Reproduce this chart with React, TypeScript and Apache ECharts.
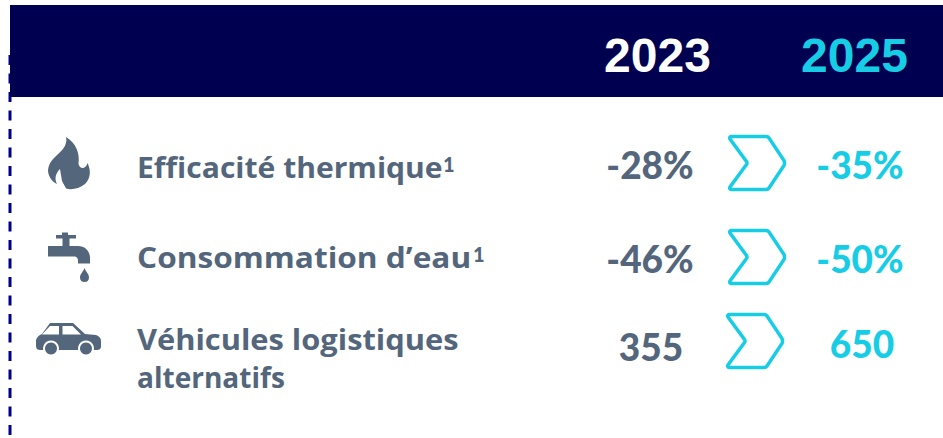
import React, { useEffect, useRef } from "react";
import * as echarts from "echarts";

const years = ["2023", "2025"];
const labels = [["Efficacité thermique"], ["Consommation d’eau"], ["Véhicules logistiques", "alternatifs"]];
const footnotes = ["1", "1", ""];
const values2023 = ["-28%", "-46%", "355"];
const values2025 = ["-35%", "-50%", "650"];

const NAVY = "#000050";
const GREY = "#53667c";
const CYAN = "#17cde6";
const FONT = "Open Sans";
const VALUE_FONT = "Lato";

const FLAME = "M66 137 C76 143 80 153 78.500 164 C80 170 86 169 87.500 163 C91 170 91 178 85 184 C79 189 71 190 66 188.500 C62 184 59 178 60 169 C56 173 54 178 57 184 C52 182 48 176 48 170 C49 160 58 155 63 149 C66 145 67 141 66 137 Z";
const TAP = "M62 232.500 L68 232.500 L68 235 L76 235 L76 238.500 L69.500 238.500 L69.500 246 L78 246 C85 246 90 251 90 258 L90 263.500 L78 263.500 L78 261 C78 258.500 77 257 75 256.500 L48 256.500 L48 246 L62.500 246 L62.500 238.500 L56 238.500 L56 235 L62 235 Z M84.500 268 C86 272 89 274 89 277.500 C89 280.500 87 282 84.500 282 C82 282 80 280.500 80 277.500 C80 274 83 272 84.500 268 Z";
const CAR = "M50 323 L73 323 L85 334 L96 335 C99 336 101 338 101 341 L101 347 C101 349 99 350 97 350 L40 350 C38 350 36 349 36 346 L36 340 C37 337 39 335 42 334 Z";
const WIN_A = "M42 334.500 L50 326 L59 326 L59 334.500 Z";
const WIN_B = "M62.500 326 L72.500 326 L81 334.500 L62.500 334.500 Z";
const CHEVRON = "M731 136.500 L766 136.500 Q768 136.500 769 138 L784 160.500 Q785 163 784 165.500 L769 188 Q768 189.500 766 189.500 L731 189.500 Q729 189 730 187 L746.500 164.500 Q747.500 163 746.500 161.500 L730 139 Q729 137 731 136.500 Z";

echarts.graphic.registerShape("flame", echarts.graphic.extendPath(FLAME, {}) as any);
echarts.graphic.registerShape("tap", echarts.graphic.extendPath(TAP, {}) as any);
echarts.graphic.registerShape("car", echarts.graphic.extendPath(CAR, {}) as any);
echarts.graphic.registerShape("winA", echarts.graphic.extendPath(WIN_A, {}) as any);
echarts.graphic.registerShape("winB", echarts.graphic.extendPath(WIN_B, {}) as any);
echarts.graphic.registerShape("chevron", echarts.graphic.extendPath(CHEVRON, {}) as any);

const text = (x: number, y: number, t: string, size: number, fill: string, align = "left", scaleX = 1, family = FONT, weight = "bold") => ({
  type: "text",
  x,
  y,
  scaleX,
  style: { text: t, x: 0, y: 0, fill, font: `${weight} ${size}px "${family}"`, textAlign: align, textVerticalAlign: "middle" },
});

export default function App() {
  const ref = useRef<HTMLDivElement>(null);
  useEffect(() => {
    const chart = echarts.init(ref.current!, null, { renderer: "svg" });
    const chevrons = [[0, 0], [0, 94], [-2, 178]];
    const valueY2023 = [164, 258, 346];
    const valueY2025 = [164, 258, 343];
    const centers2023 = [650, 650, 651];
    const centers2025 = [860, 860, 862];
    const labelEls: any[] = [
      text(137, 167, labels[0][0], 29, GREY, "left", 1.037),
      text(443, 164, footnotes[0], 20, GREY, "left", 1, "Lato", "900"),
      text(137, 257, labels[1][0], 29, GREY, "left", 1.09),
      text(473, 254, footnotes[1], 20, GREY, "left", 1, "Lato", "900"),
      text(137, 339, labels[2][0], 29, GREY, "left", 1.063),
      text(137, 377, labels[2][1], 29, GREY, "left", 0.967),
    ];
    chart.setOption({
      animation: false,
      graphic: {
        elements: [
          { type: "line", shape: { x1: 10, y1: 55, x2: 10, y2: 438 }, style: { stroke: "#00008b", lineWidth: 3, lineDash: [10, 8.5] } },
          { type: "rect", shape: { x: 10, y: 5, width: 933, height: 92 }, style: { fill: NAVY } },
          text(657.500, 55, years[0], 48, "#ffffff", "center", 1, "Liberation Sans"),
          text(854.500, 55, years[1], 48, CYAN, "center", 1, "Liberation Sans"),
          { type: "flame", style: { fill: GREY } },
          { type: "polygon", shape: { points: [[60, 169], [57, 178], [61, 184], [64, 189], [66, 188.5], [62, 181]] }, style: { fill: "#fff" } },
          { type: "tap", style: { fill: GREY } },
          { type: "car", style: { fill: GREY } },
          { type: "winA", style: { fill: "#fff" } },
          { type: "winB", style: { fill: "#fff" } },
          { type: "circle", shape: { cx: 51, cy: 348.5, r: 8 }, style: { fill: "#fff" } },
          { type: "circle", shape: { cx: 86, cy: 348.5, r: 8 }, style: { fill: "#fff" } },
          { type: "circle", shape: { cx: 51, cy: 348.5, r: 6 }, style: { fill: GREY } },
          { type: "circle", shape: { cx: 86, cy: 348.5, r: 6 }, style: { fill: GREY } },
          ...labelEls,
          ...values2023.map((v, i) => text(centers2023[i], valueY2023[i], v, 37, GREY, "center", 1, VALUE_FONT, "900")),
          ...values2025.map((v, i) => text(centers2025[i], valueY2025[i], v, 37, CYAN, "center", 1, VALUE_FONT, "900")),
          ...chevrons.map(([dx, dy]) => ({ type: "chevron", x: dx, y: dy, style: { fill: "none", stroke: CYAN, lineWidth: 3.5 } })),
        ],
      },
    });
    return () => chart.dispose();
  }, []);
  return <div ref={ref} style={{ position: "absolute", left: 0, top: 0, width: 943, height: 438, background: "#fff" }} />;
}
